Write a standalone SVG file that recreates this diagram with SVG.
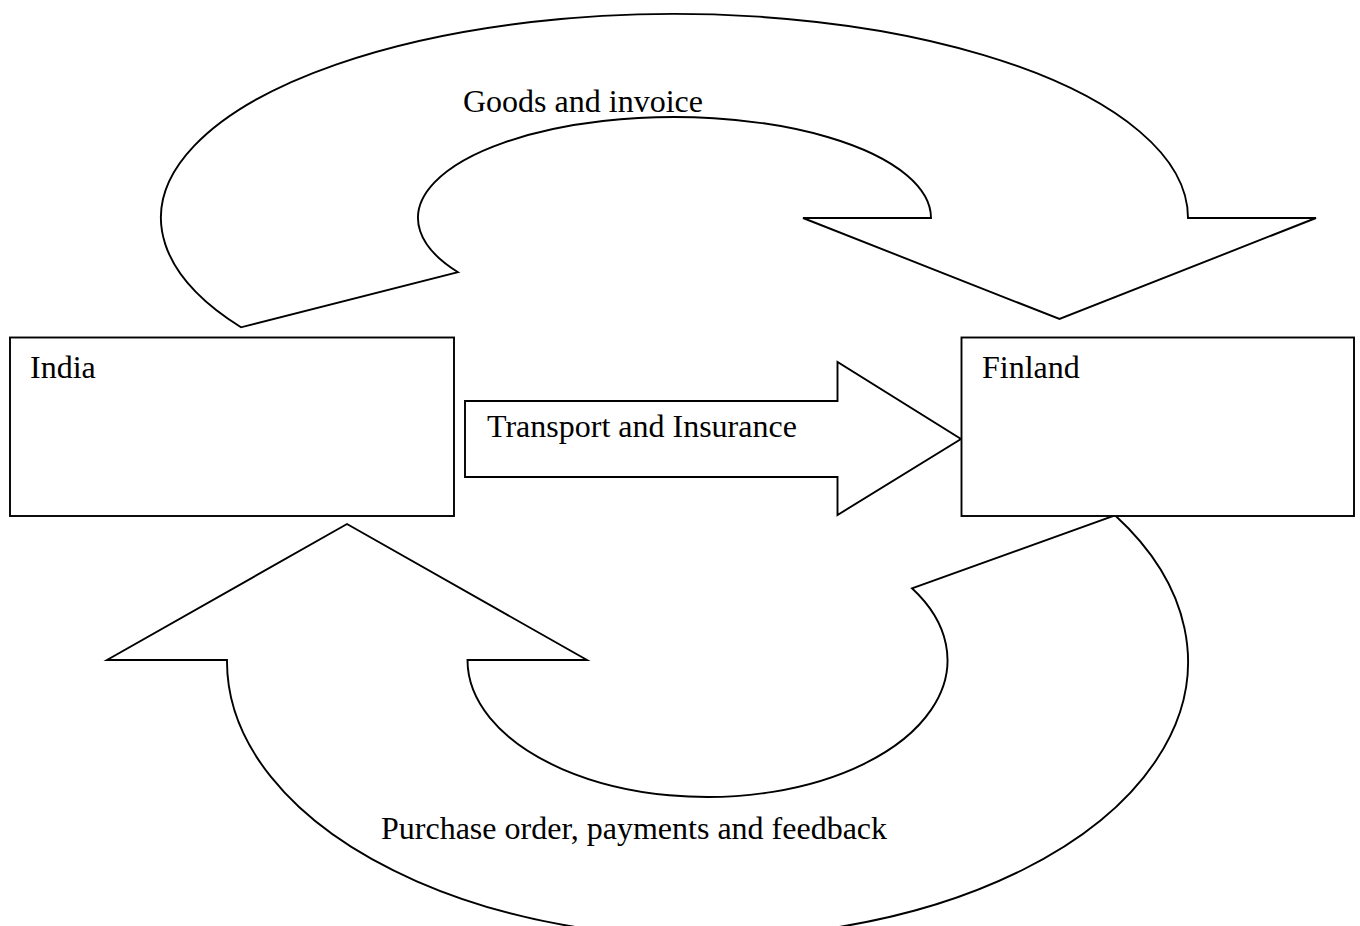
<svg xmlns="http://www.w3.org/2000/svg" width="1360" height="926" viewBox="0 0 1360 926">
  <style>
    .box { fill: #ffffff; stroke: #000000; stroke-width: 1.9; }
    .arrow { fill: #ffffff; stroke: #000000; stroke-width: 1.9; stroke-linejoin: miter; }
    .lbl { font-family: "Liberation Serif", "Times New Roman", serif; font-size: 32px; fill: #000000; }
  </style>
  <rect x="0" y="0" width="1360" height="926" fill="#ffffff"/>
  <g id="connectors">
    <g id="goods-arrow">
      <path class="arrow" d="M 241,327.3 A 513.5 204 0 1 1 1188,218 L 1316,218 L 1059.5,319 L 803,218 L 931,218 A 256.5 101 0 1 0 458,272.2 Z"/>
      <text class="lbl" x="463" y="112">Goods and invoice</text>
    </g>
    <g id="transport-arrow">
      <path class="arrow" d="M 465,401 L 837.5,401 L 837.5,362 L 961,439 L 837.5,515 L 837.5,477 L 465,477 Z"/>
      <text class="lbl" x="487" y="437">Transport and Insurance</text>
    </g>
    <g id="purchase-arrow">
      <path class="arrow" d="M 227,660 L 107,660 L 347,524 L 587,660 L 467.5,660 A 240 137 0 1 0 912,588.3 L 1115,515.3 A 480.5 276 0 1 1 227,660 Z"/>
      <text class="lbl" x="381" y="839">Purchase order, payments and feedback</text>
    </g>
  </g>
  <g id="india">
    <rect class="box" x="10" y="337.5" width="444" height="178.5"/>
    <text class="lbl" x="30" y="378">India</text>
  </g>
  <g id="finland">
    <rect class="box" x="961.5" y="337.5" width="392.5" height="178.5"/>
    <text class="lbl" x="982" y="378">Finland</text>
  </g>
</svg>
